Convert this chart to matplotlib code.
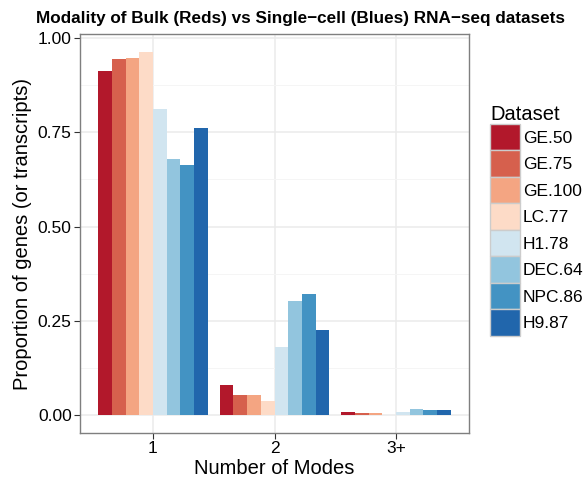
import numpy as np
import matplotlib
matplotlib.use('Agg')
from matplotlib import pyplot as plt
from matplotlib.patches import Patch

plt.rcParams['font.family'] = ['Liberation Sans', 'DejaVu Sans']

modes = ['1', '2', '3+']
datasets = ['GE.50', 'GE.75', 'GE.100', 'LC.77', 'H1.78', 'DEC.64', 'NPC.86', 'H9.87']
colors = ['#B2182B', '#D6604D', '#F4A582', '#FDDBC7',
          '#D1E5F0', '#92C5DE', '#4393C3', '#2166AC']

# proportion per dataset for modes 1, 2, 3+
GE_50 = [0.912, 0.080, 0.009]
GE_75 = [0.944, 0.054, 0.004]
GE_100 = [0.947, 0.052, 0.004]
LC_77 = [0.963, 0.038, 0.001]
H1_78 = [0.812, 0.181, 0.008]
DEC_64 = [0.679, 0.302, 0.017]
NPC_86 = [0.663, 0.322, 0.014]
H9_87 = [0.761, 0.226, 0.014]
values = [GE_50, GE_75, GE_100, LC_77, H1_78, DEC_64, NPC_86, H9_87]

fig = plt.figure(figsize=(5.86, 4.84), dpi=100)
ax = fig.add_axes([80/586, 51/484, 389/586, 399/484])

x = np.arange(1, len(modes) + 1)
n = len(datasets)
w = 0.9 / n
for i, (name, vals) in enumerate(zip(datasets, values)):
    ax.bar(x - 0.45 + w * (i + 0.5), vals, width=w, color=colors[i],
           label=name, zorder=3, linewidth=0)

ax.set_xlim(0.4, 3.6)
ax.set_ylim(-0.048, 1.011)
ax.set_xticks(x)
ax.set_xticklabels(modes)
ax.set_yticks([0, 0.25, 0.5, 0.75, 1.0])
ax.set_yticklabels(['0.00', '0.25', '0.50', '0.75', '1.00'])
ax.set_yticks([0.125, 0.375, 0.625, 0.875], minor=True)
ax.tick_params(axis='both', which='major', length=4, width=0.8,
               color='#333333', labelsize=12.5, labelcolor='black', pad=2)
ax.tick_params(axis='y', which='minor', length=0)

ax.grid(which='major', color='#EBEBEB', linewidth=1.1, zorder=0)
ax.grid(which='minor', axis='y', color='#F5F5F5', linewidth=0.7, zorder=0)
ax.set_axisbelow(True)
for s in ax.spines.values():
    s.set_color('#7F7F7F')
    s.set_linewidth(1.0)

ax.set_xlabel('Number of Modes', fontsize=14.5, labelpad=2)
ax.set_ylabel('Proportion of genes (or transcripts)', fontsize=14.5, labelpad=4)

fig.text(301/586, 1 - 18/484, 'Modality of Bulk (Reds) vs Single\u2212cell (Blues) RNA\u2212seq datasets',
         ha='center', va='center', fontsize=12.3, fontweight='bold')

handles = [Patch(facecolor=c, edgecolor='#CCCCCC', linewidth=1.0) for c in colors]
leg = ax.legend(handles, datasets, title='Dataset', loc='upper left',
                bbox_to_anchor=(490/586, 1 - 105/484), bbox_transform=fig.transFigure,
                frameon=False, fontsize=12.5, title_fontsize=14.5,
                handlelength=1.73, handleheight=1.97, labelspacing=0,
                handletextpad=0.15, borderpad=0, borderaxespad=0,
                alignment='left')

fig.savefig('out.png', dpi=100)
